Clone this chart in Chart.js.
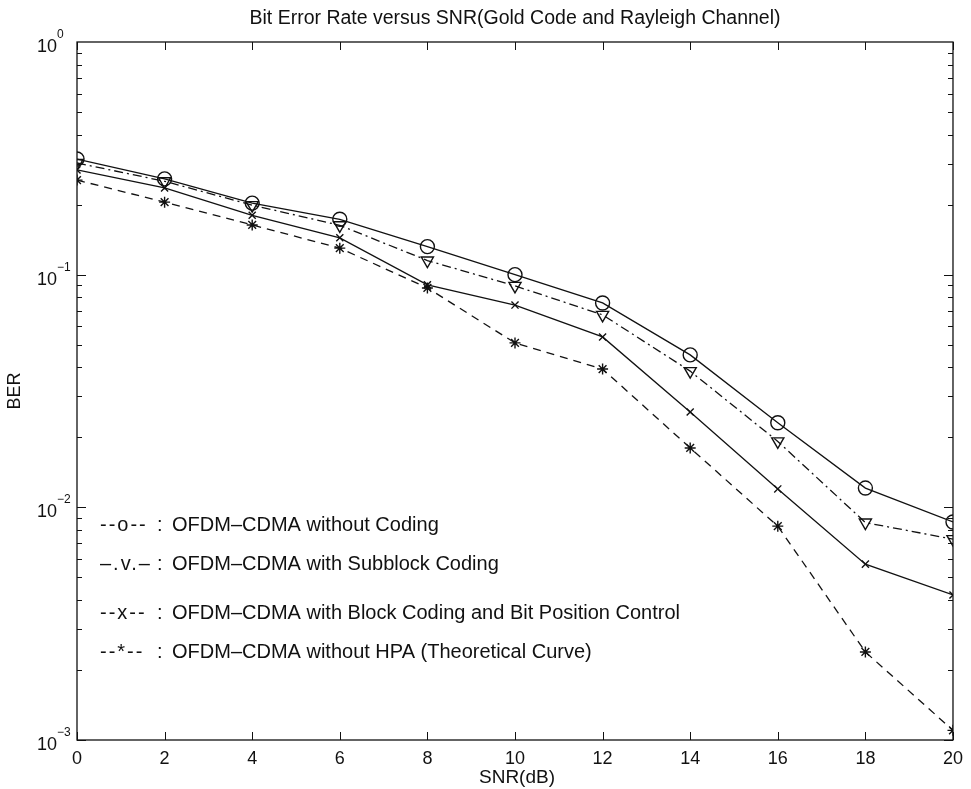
<!DOCTYPE html>
<html>
<head>
<meta charset="utf-8">
<script src="https://cdn.jsdelivr.net/npm/chart.js@4.4.1/dist/chart.umd.min.js"></script>
<style>
html,body{margin:0;padding:0;background:#fff;}
canvas{display:block;}
</style>
</head>
<body>
<canvas id="c" width="971" height="789"></canvas>
<script>
const snr = [0, 2, 4, 6, 8, 10, 12, 14, 16, 18, 20];
const berNoCoding = [0.314, 0.258, 0.203, 0.173, 0.132, 0.100, 0.0756, 0.0452, 0.0231, 0.0121, 0.00865];
const berSubblock = [0.302, 0.252, 0.199, 0.163, 0.115, 0.0895, 0.0672, 0.0385, 0.0192, 0.0086, 0.0073];
const berBlockBit = [0.282, 0.236, 0.180, 0.144, 0.0904, 0.074, 0.054, 0.0257, 0.0120, 0.0057, 0.0042];
const berNoHPA = [0.255, 0.205, 0.1636, 0.130, 0.0877, 0.0509, 0.0393, 0.0180, 0.0083, 0.00239, 0.0011];
const xTicks = [0, 2, 4, 6, 8, 10, 12, 14, 16, 18, 20];
const yDecades = [0, -1, -2, -3];
const titleText = 'Bit Error Rate versus SNR(Gold Code and Rayleigh Channel)';
const xLabel = 'SNR(dB)';
const yLabel = 'BER';
const legendMarks = ['--o--', '\u2013.v.\u2013', '--x--', '--*--'];
const legendTexts = [
  'OFDM\u2013CDMA without Coding',
  'OFDM\u2013CDMA with Subblock Coding',
  'OFDM\u2013CDMA with Block Coding and Bit Position Control',
  'OFDM\u2013CDMA without HPA (Theoretical Curve)'
];

const FONT = '"Liberation Sans", Arial, Helvetica, sans-serif';

function ds(data, style, dash, rot, radius) {
  return {
    data: snr.map((x, i) => ({x: x, y: data[i]})),
    borderColor: '#111', backgroundColor: 'rgba(0,0,0,0)',
    borderWidth: 1.3, borderDash: dash,
    pointStyle: style, pointRotation: rot, pointRadius: radius,
    pointBorderColor: '#111', pointBackgroundColor: 'rgba(0,0,0,0)',
    pointBorderWidth: 1.4, tension: 0, fill: false
  };
}

const decor = {
  id: 'decor',
  afterDraw(chart) {
    const ctx = chart.ctx, a = chart.chartArea;
    const xs = chart.scales.x, ys = chart.scales.y;
    ctx.save();
    ctx.strokeStyle = '#111';
    ctx.lineWidth = 1.3;
    ctx.setLineDash([]);
    ctx.strokeRect(a.left, a.top, a.right - a.left, a.bottom - a.top);
    ctx.lineWidth = 1;
    ctx.beginPath();
    xTicks.forEach(v => {
      const px = Math.round(xs.getPixelForValue(v)) + 0.5;
      ctx.moveTo(px, a.bottom); ctx.lineTo(px, a.bottom - 8);
      ctx.moveTo(px, a.top); ctx.lineTo(px, a.top + 8);
    });
    for (let d = -3; d < 0; d++) {
      for (let m = 1; m <= 9; m++) {
        const v = m * Math.pow(10, d);
        const py = Math.round(ys.getPixelForValue(v)) + 0.5;
        const len = m === 1 ? 9 : 5;
        ctx.moveTo(a.left, py); ctx.lineTo(a.left + len, py);
        ctx.moveTo(a.right, py); ctx.lineTo(a.right - len, py);
      }
    }
    ctx.stroke();

    ctx.fillStyle = '#111';
    // y tick labels with superscripts
    yDecades.forEach(e => {
      const py = ys.getPixelForValue(Math.pow(10, e));
      const exp = e === 0 ? '0' : '\u2212' + (-e);
      const expX = 57;
      ctx.font = '12px ' + FONT;
      ctx.textAlign = 'left'; ctx.textBaseline = 'alphabetic';
      ctx.fillText(exp, expX, py - 4);
      ctx.font = '18px ' + FONT;
      ctx.textAlign = 'right';
      ctx.fillText('10', expX, py + 10);
    });
    // title
    ctx.font = '19.5px ' + FONT;
    ctx.textAlign = 'center'; ctx.textBaseline = 'alphabetic';
    ctx.fillText(titleText, (a.left + a.right) / 2, 24);
    // x label
    ctx.font = '19px ' + FONT;
    ctx.fillText(xLabel, (a.left + a.right) / 2 + 2, 783);
    // y label
    ctx.save();
    ctx.translate(20, (a.top + a.bottom) / 2);
    ctx.rotate(-Math.PI / 2);
    ctx.font = '18px ' + FONT;
    ctx.fillText(yLabel, 0, 0);
    ctx.restore();
    // legend annotations
    const ly = [531, 570, 619, 658];
    ctx.textAlign = 'left';
    legendTexts.forEach((t, i) => {
      ctx.font = '20px ' + FONT;
      ctx.letterSpacing = '2px';
      ctx.fillText(legendMarks[i], 100, ly[i]);
      ctx.letterSpacing = '0px';
      ctx.fillText(':', 157, ly[i]);
      ctx.fillText(t, 172, ly[i]);
    });
    ctx.restore();
  }
};

new Chart(document.getElementById('c'), {
  type: 'line',
  data: {
    datasets: [
      ds(berNoCoding, 'circle', [], 0, 7),
      ds(berSubblock, 'triangle', [9, 4, 2, 4], 180, 7),
      ds(berBlockBit, 'crossRot', [], 0, 5),
      ds(berNoHPA, 'star', [8, 6], 0, 5.5)
    ]
  },
  options: {
    responsive: false,
    devicePixelRatio: 1,
    animation: false,
    layout: {padding: {top: 42, right: 13, left: 0, bottom: 0}},
    plugins: {legend: {display: false}, tooltip: {enabled: false}, title: {display: false}},
    scales: {
      x: {
        type: 'linear', min: 0, max: 20,
        afterFit(s) { s.height = 49; },
        afterBuildTicks(s) { s.ticks = xTicks.map(v => ({value: v})); },
        ticks: {color: '#111', font: {size: 18, family: FONT}, padding: 8, maxRotation: 0},
        grid: {display: false, drawTicks: false},
        border: {display: false}
      },
      y: {
        type: 'logarithmic', min: 0.001, max: 1,
        afterFit(s) { s.width = 77; },
        ticks: {display: false},
        grid: {display: false, drawTicks: false},
        border: {display: false}
      }
    }
  },
  plugins: [decor]
});
</script>
</body>
</html>
